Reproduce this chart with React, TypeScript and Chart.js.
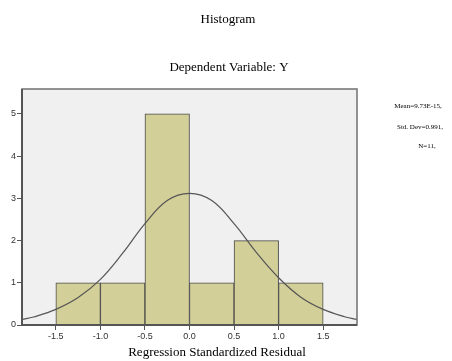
import React, { useEffect, useRef } from "react";
import { Chart, registerables } from "chart.js";

Chart.register(...registerables);

const binCenters = [-1.25, -0.75, -0.25, 0.25, 0.75, 1.25];
const binCounts = [1, 1, 5, 1, 2, 1];
const curveX = [-1.88, -1.75, -1.5, -1.25, -1.0, -0.75, -0.5, -0.25, 0, 0.25, 0.5, 0.75, 1.0, 1.25, 1.5, 1.75, 1.88];
const curveY = [0.13, 0.19, 0.37, 0.65, 1.08, 1.7, 2.4, 2.95, 3.12, 2.95, 2.4, 1.72, 1.12, 0.66, 0.37, 0.19, 0.13];
const xTicks = [-1.5, -1.0, -0.5, 0, 0.5, 1.0, 1.5];
const xTickLabels = ["-1.5", "-1.0", "-0.5", "0.0", "0.5", "1.0", "1.5"];
const yTicks = [0, 1, 2, 3, 4, 5];
const titleText = "Histogram";
const subtitleText = "Dependent Variable: Y";
const xAxisTitle = "Regression Standardized Residual";
const statsLines = ["Mean=9.73E-15,", "Std. Dev=0.991,", "N=11,"];

export default function App() {
  const ref = useRef<HTMLCanvasElement | null>(null);

  useEffect(() => {
    const canvas = ref.current;
    if (!canvas) return;

    const decor = {
      id: "decor",
      beforeDatasetsDraw(chart: any) {
        const { ctx, chartArea: a } = chart;
        ctx.save();
        ctx.fillStyle = "#f0f0f0";
        ctx.fillRect(a.left, a.top, a.right - a.left, a.bottom - a.top);
        ctx.restore();
      },
      afterDraw(chart: any) {
        const { ctx, chartArea: a } = chart;
        ctx.save();
        ctx.strokeStyle = "#707070";
        ctx.lineWidth = 1.5;
        ctx.strokeRect(a.left, a.top, a.right - a.left, a.bottom - a.top);
        ctx.strokeStyle = "#555555";
        ctx.lineWidth = 2;
        ctx.beginPath();
        ctx.moveTo(a.left, a.top);
        ctx.lineTo(a.left, a.bottom);
        ctx.lineTo(a.right, a.bottom);
        ctx.stroke();

        ctx.fillStyle = "#000";
        ctx.textAlign = "center";
        ctx.textBaseline = "middle";
        ctx.font = "13px 'Liberation Serif', serif";
        ctx.fillText(titleText, 228, 20);
        ctx.fillText(subtitleText, 229, 68);
        ctx.fillText(xAxisTitle, 217, 353);
        ctx.font = "7px 'Liberation Serif', serif";
        ctx.fillText(statsLines[0], 418, 106);
        ctx.fillText(statsLines[1], 420, 127);
        ctx.fillText(statsLines[2], 427, 146);
        ctx.restore();
      },
    };

    const chart = new Chart(canvas, {
      type: "bar",
      data: {
        datasets: [
          {
            type: "line",
            data: curveX.map((x, i) => ({ x, y: curveY[i] })),
            borderColor: "#555555",
            borderWidth: 1.2,
            pointRadius: 0,
            tension: 0.4,
            fill: false,
            order: 0,
          } as any,
          {
            type: "bar",
            data: binCenters.map((x, i) => ({ x, y: binCounts[i] })),
            backgroundColor: "#d3cf98",
            borderColor: "#4a4a4a",
            borderWidth: 1,
            barPercentage: 1,
            categoryPercentage: 1,
            order: 1,
          } as any,
        ],
      },
      options: {
        responsive: false,
        animation: false,
        layout: { padding: { left: 0, right: 95, top: 89, bottom: 0 } },
        plugins: {
          legend: { display: false },
          title: { display: false },
          tooltip: { enabled: false },
        },
        scales: {
          x: {
            type: "linear",
            min: -1.88,
            max: 1.88,
            offset: false,
            afterBuildTicks: (s: any) => {
              s.ticks = xTicks.map((v) => ({ value: v }));
            },
            afterFit: (s: any) => {
              s.height = 36;
            },
            grid: {
              display: true,
              offset: false,
              drawOnChartArea: false,
              drawTicks: true,
              tickLength: 5,
              color: "#555555",
            },
            border: { display: false },
            ticks: {
              autoSkip: false,
              maxRotation: 0,
              padding: 1,
              color: "#333333",
              font: { family: "'Liberation Sans', Arial, sans-serif", size: 9 },
              callback: (v: any) => {
                const i = xTicks.indexOf(Number(v));
                return i >= 0 ? xTickLabels[i] : "";
              },
            },
          },
          y: {
            type: "linear",
            min: 0,
            max: 5.59,
            afterBuildTicks: (s: any) => {
              s.ticks = yTicks.map((v) => ({ value: v }));
            },
            afterFit: (s: any) => {
              s.width = 22;
            },
            grid: {
              display: true,
              drawOnChartArea: false,
              drawTicks: true,
              tickLength: 5,
              color: "#555555",
            },
            border: { display: false },
            ticks: {
              padding: 1,
              color: "#333333",
              font: { family: "'Liberation Sans', Arial, sans-serif", size: 9 },
              callback: (v: any) => String(v),
            },
          },
        },
      },
      plugins: [decor],
    });

    return () => chart.destroy();
  }, []);

  return (
    <div style={{ position: "fixed", left: 0, top: 0, width: 452, height: 361, background: "#fff" }}>
      <canvas ref={ref} width={452} height={361} />
    </div>
  );
}
